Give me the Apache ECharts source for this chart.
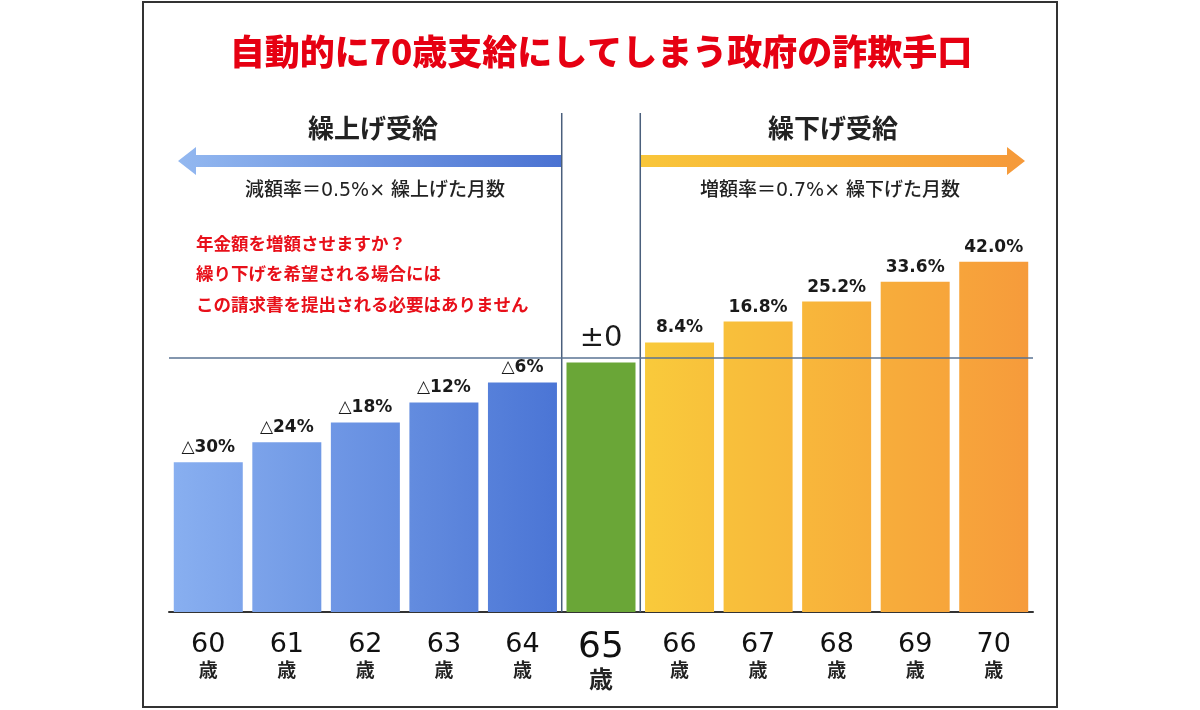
<!DOCTYPE html>
<html><head><meta charset="utf-8">
<script src="https://cdn.jsdelivr.net/npm/echarts@6/dist/echarts.min.js"></script>
<style>html,body{margin:0;padding:0;background:#fff}#c{width:1200px;height:710px}</style>
</head><body><div id="c"></div>
<script>
// ---- data ----
const ages = ['60','61','62','63','64','65','66','67','68','69','70'];
const ageUnit = '歳';
const barHeights = [60, 68, 76, 84, 92, 100, 108, 116.4, 124.4, 132.4, 140.4];
const barLabels = ['△30%','△24%','△18%','△12%','△6%','±0','8.4%','16.8%','25.2%','33.6%','42.0%'];
const titleText = '自動的に70歳支給にしてしまう政府の詐欺手口';
const leftHeader = '繰上げ受給';
const rightHeader = '繰下げ受給';
const leftFormula = '減額率＝0.5%× 繰上げた月数';
const rightFormula = '増額率＝0.7%× 繰下げた月数';
const noteLines = ['年金額を増額させますか？', '繰り下げを希望される場合には', 'この請求書を提出される必要はありません'];
const baseIndex = 5;      // 65歳
const refLineValue = 102; // horizontal reference line

// ---- styles ----
const CJK = '"Noto Sans CJK JP", "Noto Sans", sans-serif';
const MIX = '"DejaVu Sans", "Noto Sans CJK JP", sans-serif';
function lerp(a, b, t) {
  const pa = [1,3,5].map(i => parseInt(a.substr(i,2),16));
  const pb = [1,3,5].map(i => parseInt(b.substr(i,2),16));
  return 'rgb(' + pa.map((v,i) => Math.round(v + (pb[i]-v)*t)).join(',') + ')';
}
function barColor(i) {
  if (i < baseIndex) {
    const a = '#88aff0', b = '#4a74d4';
    return new echarts.graphic.LinearGradient(0,0,1,0,[
      {offset:0,color:lerp(a,b,i/baseIndex)},{offset:1,color:lerp(a,b,(i+0.9)/baseIndex)}]);
  }
  if (i === baseIndex) return '#6aa637';
  const n = ages.length - baseIndex - 1, k = i - baseIndex - 1;
  const a = '#f9ca3b', b = '#f69a3b';
  return new echarts.graphic.LinearGradient(0,0,1,0,[
    {offset:0,color:lerp(a,b,k/n)},{offset:1,color:lerp(a,b,(k+0.9)/n)}]);
}

const chart = echarts.init(document.getElementById('c'));

const seriesData = barHeights.map((v, i) => ({
  value: v,
  itemStyle: { color: barColor(i) },
  label: i === baseIndex ? { fontSize: 29, fontWeight: 400, distance: 10 } : {}
}));

const staticGraphics = [
  { type: 'rect', shape: { x: 143, y: 2, width: 914, height: 705 },
    style: { fill: 'none', stroke: '#333', lineWidth: 2 }, z: 10 },
  { type: 'text', x: 601, y: 52, style: { text: titleText, fill: '#e60012', font: '900 35px ' + CJK, align: 'center', verticalAlign: 'middle' } },
  { type: 'text', x: 373, y: 128, style: { text: leftHeader, fill: '#222', font: 'bold 26px ' + CJK, align: 'center', verticalAlign: 'middle' } },
  { type: 'text', x: 833, y: 128, style: { text: rightHeader, fill: '#222', font: 'bold 26px ' + CJK, align: 'center', verticalAlign: 'middle' } },
  { type: 'text', x: 375, y: 191, style: { text: leftFormula, fill: '#222', font: '500 19px ' + MIX, align: 'center', verticalAlign: 'middle' } },
  { type: 'text', x: 830, y: 191, style: { text: rightFormula, fill: '#222', font: '500 19px ' + MIX, align: 'center', verticalAlign: 'middle' } },
  { type: 'text', x: 196, y: 228, style: { text: noteLines.join('\n'), fill: '#e8101a', font: 'bold 17.5px ' + CJK, lineHeight: 30.5, align: 'left', verticalAlign: 'top' } },
  { type: 'polygon', shape: { points: [[562,155],[196,155],[196,147],[178,161],[196,175],[196,167],[562,167]] },
    style: { fill: new echarts.graphic.LinearGradient(0,0,1,0,[{offset:0,color:'#93b8f0'},{offset:1,color:'#4a72d2'}]) } },
  { type: 'polygon', shape: { points: [[641,155],[1007,155],[1007,147],[1025,161],[1007,175],[1007,167],[641,167]] },
    style: { fill: new echarts.graphic.LinearGradient(0,0,1,0,[{offset:0,color:'#f9c63a'},{offset:1,color:'#f5993a'}]) } }
];

chart.setOption({
  backgroundColor: '#fff',
  animation: false,
  grid: { left: 169, right: 167, top: 113, bottom: 98 },
  xAxis: {
    type: 'category',
    data: ages,
    axisTick: { show: false },
    axisLine: { lineStyle: { color: '#333', width: 2 } },
    splitLine: { show: false },
    axisLabel: {
      margin: 19,
      interval: 0,
      formatter: (v) => v === ages[baseIndex] ? '{bn|' + v + '}\n{bu|' + ageUnit + '}' : '{n|' + v + '}\n{u|' + ageUnit + '}',
      rich: {
        n: { fontFamily: MIX, fontSize: 27, fontWeight: 'normal', color: '#111', lineHeight: 28 },
        u: { fontFamily: CJK, fontSize: 19, fontWeight: 700, color: '#222', lineHeight: 22 },
        bn: { fontFamily: MIX, fontSize: 36, fontWeight: 'normal', color: '#111', lineHeight: 34 },
        bu: { fontFamily: CJK, fontSize: 24, fontWeight: 700, color: '#222', lineHeight: 28 }
      }
    }
  },
  yAxis: { type: 'value', min: 0, max: 200, show: false, splitLine: { show: false } },
  series: [{
    type: 'bar',
    barWidth: 69,
    data: seriesData,
    label: {
      show: true, position: 'top', distance: 6,
      formatter: (p) => barLabels[p.dataIndex],
      fontFamily: MIX, fontSize: 17, fontWeight: 'bold', color: '#1a1a1a'
    },
    markLine: {
      silent: true, symbol: 'none', label: { show: false },
      lineStyle: { color: '#5a7393', width: 1.5, type: 'solid' },
      data: [{ yAxis: refLineValue }]
    }
  }],
  graphic: staticGraphics
});

// vertical divider lines at the category boundaries around 65歳
const c5 = chart.convertToPixel({ xAxisIndex: 0 }, ages[baseIndex]);
const band = chart.convertToPixel({ xAxisIndex: 0 }, ages[1]) - chart.convertToPixel({ xAxisIndex: 0 }, ages[0]);
const yBase = chart.convertToPixel({ yAxisIndex: 0 }, 0);
const yTop = chart.convertToPixel({ yAxisIndex: 0 }, 200);
const divX = [c5 - band / 2, c5 + band / 2];
chart.setOption({
  graphic: staticGraphics.concat(divX.map(x => ({
    type: 'line', shape: { x1: x, y1: yTop, x2: x, y2: yBase },
    style: { stroke: '#4a5f7c', lineWidth: 1.5 }, z: 5
  })))
});
</script></body></html>
